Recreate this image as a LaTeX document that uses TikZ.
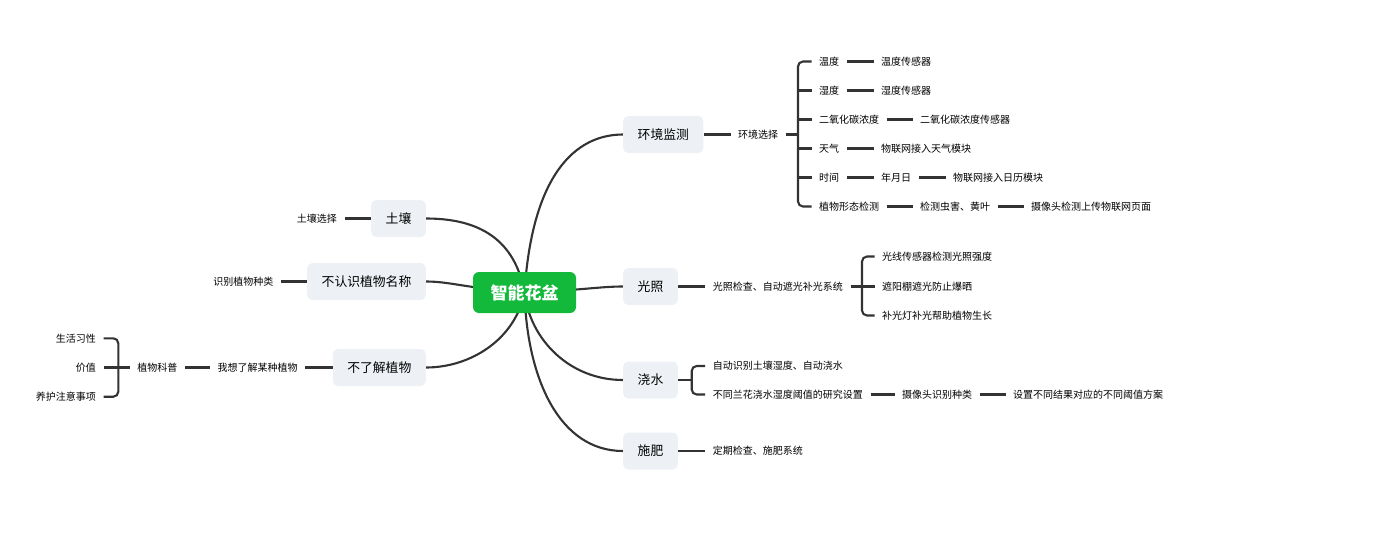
\documentclass[tikz,border=0pt]{standalone}
\usepackage{fontspec}
\setmainfont{Noto Sans CJK SC}
\usetikzlibrary{backgrounds}
\definecolor{lineC}{HTML}{333333}
\definecolor{boxC}{HTML}{EDF1F5}
\definecolor{rootC}{HTML}{13B93A}
\begin{document}
\begin{tikzpicture}[x=1pt,y=-1pt,
  root/.style={fill=rootC, rounded corners=6pt, text=white, font=\fontsize{17}{20}\selectfont\bfseries, inner xsep=17.5pt, inner ysep=0pt, minimum height=41pt},
  topic/.style={fill=boxC, rounded corners=5pt, font=\fontsize{12.8}{15}\selectfont, inner xsep=14.5pt, inner ysep=0pt, minimum height=37pt},
  leaf/.style={font=\fontsize{10}{12}\selectfont, inner xsep=7.5pt, inner ysep=2pt},
  conn/.style={draw=lineC, line width=2.1pt},
  brk/.style={conn, rounded corners=5pt}]
\useasboundingbox (0,0) rectangle (1389,554);

% root and topics
\node[root] (root) at (524.5,292.5) {智能花盆};
\node[topic, anchor=west] (env) at (623,134.5) {环境监测};
\node[topic, anchor=west] (light) at (623,286.5) {光照};
\node[topic, anchor=west] (water) at (623,380) {浇水};
\node[topic, anchor=west] (fert) at (623,451) {施肥};
\node[topic, anchor=east] (soil) at (426,218.5) {土壤};
\node[topic, anchor=east] (name) at (426,281.5) {不认识植物名称};
\node[topic, anchor=east] (know) at (426,367.5) {不了解植物};

% environment branch
\node[leaf, anchor=west] (envsel) at (730.5,134.5) {环境选择};
\node[leaf, anchor=west] (e1) at (811.5,61.5) {温度};
\node[leaf, anchor=west] (e2) at (811.5,90.5) {湿度};
\node[leaf, anchor=west] (e3) at (811.5,119.5) {二氧化碳浓度};
\node[leaf, anchor=west] (e4) at (811.5,148.5) {天气};
\node[leaf, anchor=west] (e5) at (811.5,177.5) {时间};
\node[leaf, anchor=west] (e6) at (811.5,206.5) {植物形态检测};
\node[leaf, anchor=west] (e1a) at (873.5,61.5) {温度传感器};
\node[leaf, anchor=west] (e2a) at (873.5,90.5) {湿度传感器};
\node[leaf, anchor=west] (e3a) at (912.5,119.5) {二氧化碳浓度传感器};
\node[leaf, anchor=west] (e4a) at (873.5,148.5) {物联网接入天气模块};
\node[leaf, anchor=west] (e5a) at (873.5,177.5) {年月日};
\node[leaf, anchor=west] (e5b) at (945.5,177.5) {物联网接入日历模块};
\node[leaf, anchor=west] (e6a) at (912.5,206.5) {检测虫害、黄叶};
\node[leaf, anchor=west] (e6b) at (1023.5,206.5) {摄像头检测上传物联网页面};
\coordinate (eb) at (798,134.5);

% light branch
\node[leaf, anchor=west] (lsys) at (705.2,286.5) {光照检查、自动遮光补光系统};
\node[leaf, anchor=west] (l1) at (874.5,256.5) {光线传感器检测光照强度};
\node[leaf, anchor=west] (l2) at (874.5,286.5) {遮阳棚遮光防止爆晒};
\node[leaf, anchor=west] (l3) at (874.5,315.5) {补光灯补光帮助植物生长};
\coordinate (lb) at (862,286.5);

% water branch
\node[leaf, anchor=west] (w1) at (705.2,366) {自动识别土壤湿度、自动浇水};
\node[leaf, anchor=west] (w2) at (705.2,394.5) {不同兰花浇水湿度阈值的研究设置};
\node[leaf, anchor=west] (w2a) at (894.5,394.5) {摄像头识别种类};
\node[leaf, anchor=west] (w2b) at (1005.5,394.5) {设置不同结果对应的不同阈值方案};
\coordinate (wb) at (691.7,380);

% fertiliser branch
\node[leaf, anchor=west] (f1) at (705.2,451) {定期检查、施肥系统};

% left branches
\node[leaf, anchor=east] (soilsel) at (344.5,218.5) {土壤选择};
\node[leaf, anchor=east] (namesel) at (281,281.5) {识别植物种类};
\node[leaf, anchor=east] (want) at (305.2,367.5) {我想了解某种植物};
\node[leaf, anchor=east] (sci) at (185,367.5) {植物科普};
\node[leaf, anchor=east] (k1) at (103.5,338.3) {生活习性};
\node[leaf, anchor=east] (k2) at (103.5,367.5) {价值};
\node[leaf, anchor=east] (k3) at (103.5,396.7) {养护注意事项};
\coordinate (kb) at (118.3,367.5);

% curves from root
\begin{pgfonlayer}{background}
\draw[conn] (root.center) .. controls (532,175) and (575,134.5) .. (env.west);
\draw[conn] (root.center) .. controls (585,290) and (600,286.5) .. (light.west);
\draw[conn] (root.center) .. controls (530,340) and (570,380) .. (water.west);
\draw[conn] (root.center) .. controls (527,380) and (560,451) .. (fert.west);
\draw[conn] (root.center) .. controls (515,340) and (470,367.5) .. (know.east);
\draw[conn] (root.center) .. controls (465,288) and (450,281.5) .. (name.east);
\draw[conn] (root.center) .. controls (515,240) and (480,218.5) .. (soil.east);
\end{pgfonlayer}

% environment connectors
\draw[conn] (env.east) -- (envsel.west);
\draw[conn] (envsel.east) -- (eb);
\draw[brk] (e1.west) -| (eb) |- (e6.west);
\draw[conn] (e2.west) -- (e2.west -| eb);
\draw[conn] (e3.west) -- (e3.west -| eb);
\draw[conn] (e4.west) -- (e4.west -| eb);
\draw[conn] (e5.west) -- (e5.west -| eb);
\draw[conn] (e1.east) -- (e1a.west);
\draw[conn] (e2.east) -- (e2a.west);
\draw[conn] (e3.east) -- (e3a.west);
\draw[conn] (e4.east) -- (e4a.west);
\draw[conn] (e5.east) -- (e5a.west);
\draw[conn] (e5a.east) -- (e5b.west);
\draw[conn] (e6.east) -- (e6a.west);
\draw[conn] (e6a.east) -- (e6b.west);

% light connectors
\draw[conn] (light.east) -- (lsys.west);
\draw[brk] (l1.west) -| (lb) |- (l3.west);
\draw[conn] (lsys.east) -- (l2.west);

% water connectors
\draw[conn] (water.east) -- (wb);
\draw[brk] (w1.west) -| (wb) |- (w2.west);
\draw[conn] (w2.east) -- (w2a.west);
\draw[conn] (w2a.east) -- (w2b.west);

% fertiliser connector
\draw[conn] (fert.east) -- (f1.west);

% left connectors
\draw[conn] (soil.west) -- (soilsel.east);
\draw[conn] (name.west) -- (namesel.east);
\draw[conn] (know.west) -- (want.east);
\draw[conn] (want.west) -- (sci.east);
\draw[brk] (k1.east) -| (kb) |- (k3.east);
\draw[conn] (sci.west) -- (k2.east);
\end{tikzpicture}
\end{document}
